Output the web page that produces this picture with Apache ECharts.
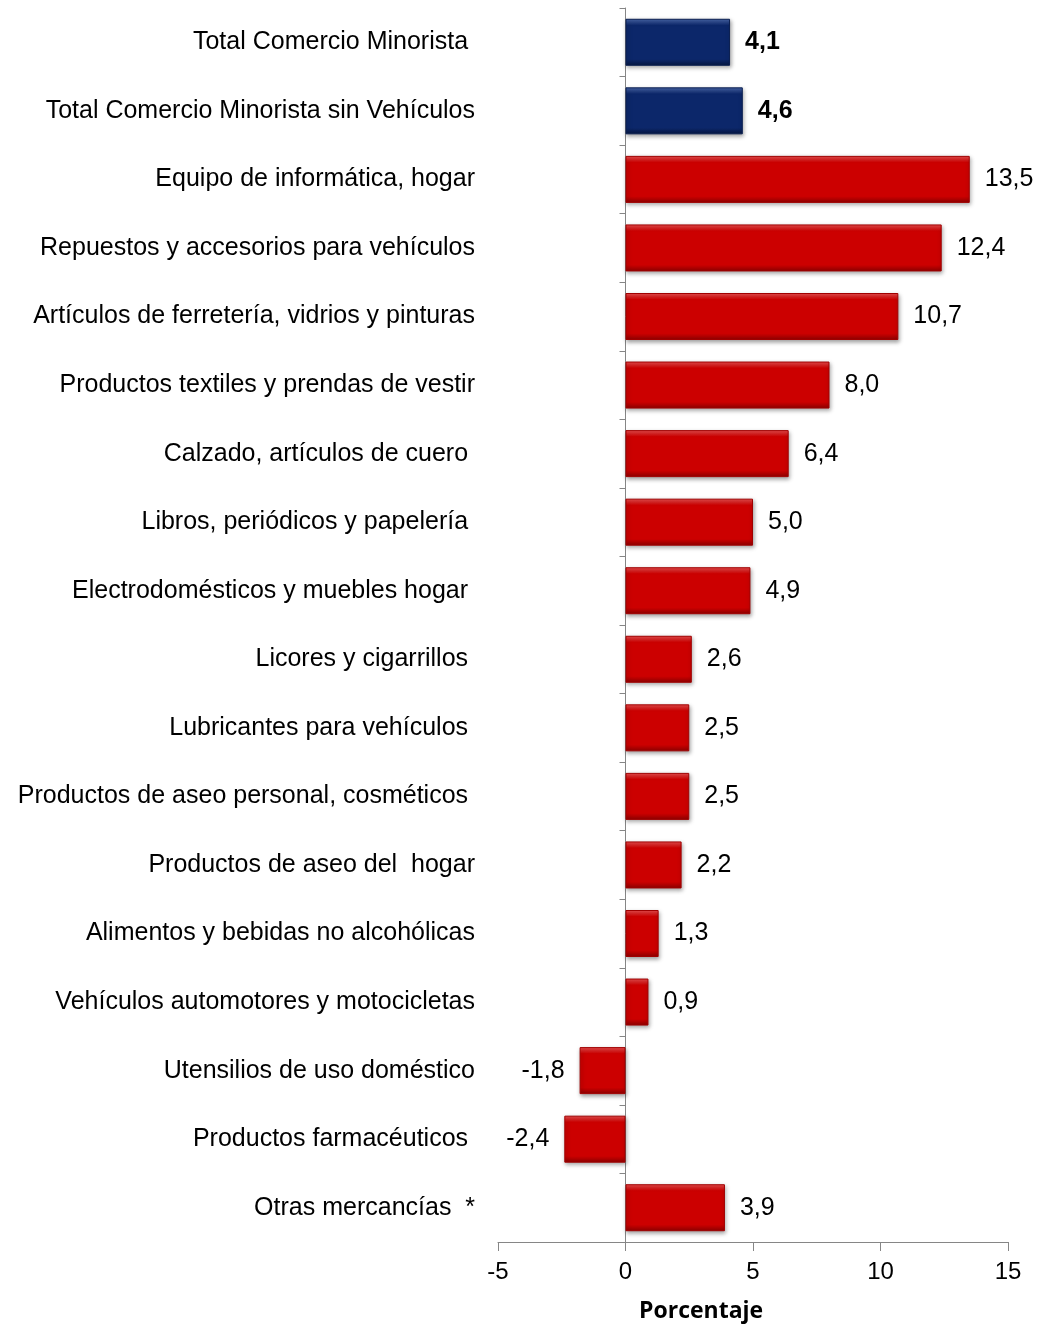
<!DOCTYPE html>
<html>
<head>
<meta charset="utf-8">
<script src="https://cdn.jsdelivr.net/npm/echarts@6/dist/echarts.min.js"></script>
<style>html,body{margin:0;padding:0;background:#fff}#chart{width:1039px;height:1325px}</style>
</head>
<body>
<div id="chart"></div>
<script>
const categories = [
  "Total Comercio Minorista ",
  "Total Comercio Minorista sin Vehículos",
  "Equipo de informática, hogar",
  "Repuestos y accesorios para vehículos",
  "Artículos de ferretería, vidrios y pinturas",
  "Productos textiles y prendas de vestir",
  "Calzado, artículos de cuero ",
  "Libros, periódicos y papelería ",
  "Electrodomésticos y muebles hogar ",
  "Licores y cigarrillos ",
  "Lubricantes para vehículos ",
  "Productos de aseo personal, cosméticos ",
  "Productos de aseo del  hogar",
  "Alimentos y bebidas no alcohólicas",
  "Vehículos automotores y motocicletas",
  "Utensilios de uso doméstico",
  "Productos farmacéuticos ",
  "Otras mercancías  *"
];
const values = [4.1, 4.6, 13.5, 12.4, 10.7, 8.0, 6.4, 5.0, 4.9, 2.6, 2.5, 2.5, 2.2, 1.3, 0.9, -1.8, -2.4, 3.9];
const totalCount = 2; // first two rows are totals (blue)
const xTicks = [-5, 0, 5, 10, 15];
const axisName = "Porcentaje";

const FONT = "'Liberation Sans', Arial, sans-serif";
function grad(light, main, dark) {
  return new echarts.graphic.LinearGradient(0, 0, 0, 1, [
    {offset: 0, color: light},
    {offset: 0.14, color: main},
    {offset: 0.86, color: main},
    {offset: 1, color: dark}
  ]);
}
const redFill = grad('#ec5050', '#cc0000', '#8c0000');
const blueFill = grad('#4a68ac', '#0c276a', '#061640');

const data = values.map((v, i) => {
  const isTotal = i < totalCount;
  return {
    value: v,
    itemStyle: {
      color: isTotal ? blueFill : redFill,
      borderColor: isTotal ? '#0a1e50' : '#a00000',
      borderWidth: 1,
      shadowColor: 'rgba(0,0,0,0.35)',
      shadowBlur: 4,
      shadowOffsetX: 1,
      shadowOffsetY: 2
    },
    label: {
      position: v < 0 ? 'left' : 'right',
      fontWeight: isTotal ? 'bold' : 'normal'
    }
  };
});

const chart = echarts.init(document.getElementById('chart'), null, {renderer: 'canvas'});
chart.setOption({
  animation: false,
  backgroundColor: '#ffffff',
  grid: {left: 498, right: 31, top: 8, bottom: 83, containLabel: false, outerBoundsMode: 'none'},
  xAxis: {
    type: 'value',
    min: xTicks[0],
    max: xTicks[xTicks.length - 1],
    interval: 5,
    axisLine: {show: true, onZero: false, lineStyle: {color: '#868686', width: 1}},
    axisTick: {show: true, length: 9, lineStyle: {color: '#868686'}},
    splitLine: {show: false},
    axisLabel: {fontFamily: FONT, fontSize: 24, color: '#000', margin: 18}
  },
  yAxis: {
    type: 'category',
    inverse: true,
    data: categories,
    axisLine: {show: true, onZero: true, lineStyle: {color: '#868686', width: 1}},
    axisTick: {show: true, length: 6, lineStyle: {color: '#868686'}},
    axisLabel: {fontFamily: FONT, fontSize: 25, color: '#000', margin: 23, padding: [4, 0, 0, 0]}
  },
  graphic: [{
    type: 'text',
    x: 639,
    y: 1311,
    style: {text: axisName, font: "bold 23px 'Open Sans', Lato, sans-serif", fill: '#000', verticalAlign: 'middle', textBaseline: 'middle'}
  }],
  series: [{
    type: 'bar',
    data: data,
    barWidth: 47,
    label: {
      show: true,
      distance: 15,
      fontFamily: FONT,
      fontSize: 25,
      color: '#000',
      padding: [4, 0, 0, 0],
      formatter: p => p.value.toFixed(1).replace('.', ',')
    }
  }]
});
</script>
</body>
</html>
